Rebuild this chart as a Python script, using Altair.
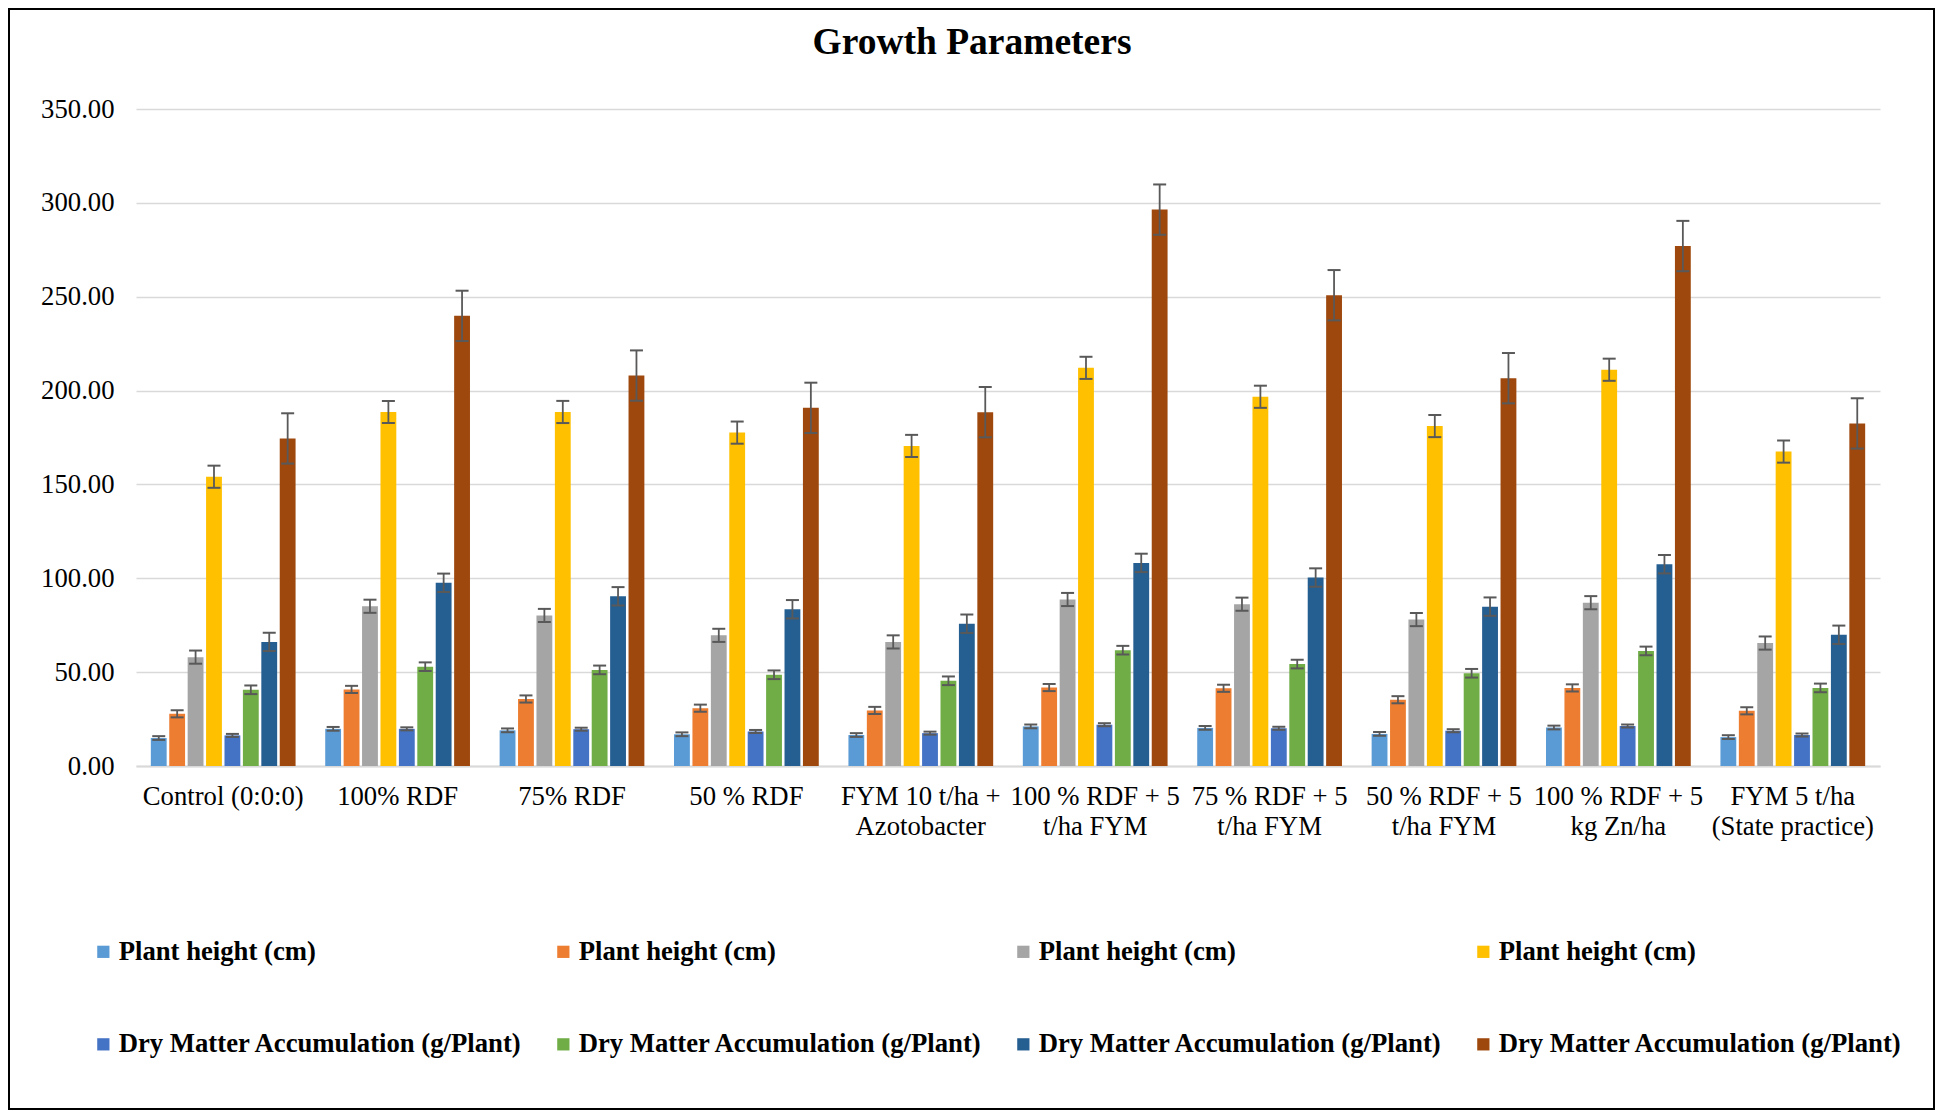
import altair as alt
import pandas as pd

chart_title = "Growth Parameters"

categories = [
    "Control (0:0:0)", "100% RDF", "75% RDF", "50 % RDF",
    "FYM 10 t/ha +\nAzotobacter", "100 % RDF + 5\nt/ha FYM",
    "75 % RDF + 5\nt/ha FYM", "50 % RDF + 5\nt/ha FYM",
    "100 % RDF + 5\nkg Zn/ha", "FYM 5 t/ha\n(State practice)",
]

series_names = [
    "Plant height (cm)", "Plant height (cm)", "Plant height (cm)", "Plant height (cm)",
    "Dry Matter Accumulation (g/Plant)", "Dry Matter Accumulation (g/Plant)",
    "Dry Matter Accumulation (g/Plant)", "Dry Matter Accumulation (g/Plant)",
]
series_colors = ["#5B9BD5", "#ED7D31", "#A5A5A5", "#FFC000",
                 "#4472C4", "#70AD47", "#255E91", "#9E480E"]

ph1 = [14.9, 19.8, 19.0, 16.9, 16.5, 21.1, 20.3, 17.1, 20.5, 15.4]
ph2 = [27.8, 40.8, 35.7, 30.8, 29.6, 41.8, 41.4, 35.3, 41.6, 29.4]
ph3 = [58.0, 85.1, 80.2, 69.6, 66.1, 88.7, 86.2, 78.0, 87.0, 65.5]
ph4 = [154.1, 188.6, 188.6, 177.6, 170.5, 212.1, 196.7, 181.1, 211.1, 167.5]
dm1 = [16.3, 19.8, 19.6, 18.4, 17.5, 22.0, 20.1, 18.8, 21.3, 16.5]
dm2 = [40.6, 52.9, 51.2, 48.6, 45.4, 61.7, 54.3, 49.4, 61.3, 41.6]
dm3 = [66.1, 97.6, 90.4, 83.5, 75.8, 108.2, 100.4, 84.9, 107.5, 69.9]
dm4 = [174.5, 239.8, 208.0, 190.8, 188.5, 296.4, 250.8, 206.6, 277.0, 182.5]

series_errors = [1.0, 1.9, 3.5, 5.9, 0.8, 2.3, 4.9, 13.4]

y_ticks = [0, 50, 100, 150, 200, 250, 300, 350]

all_series = [ph1, ph2, ph3, ph4, dm1, dm2, dm3, dm4]
domain = [f"{i + 1} {n}" for i, n in enumerate(series_names)]

rows = []
for si, vals in enumerate(all_series):
    for ci, cat in enumerate(categories):
        rows.append({"category": cat, "series": domain[si],
                     "value": vals[ci], "err": series_errors[si]})
df = pd.DataFrame(rows)

FONT = "Liberation Serif"
FS = 26.7
W, H = 1744, 657
PAD = {"left": 128, "top": 101, "right": 55, "bottom": 344}

x_enc = alt.X(
    "category:N", sort=categories,
    scale=alt.Scale(paddingInner=0.17, paddingOuter=0.085),
    axis=alt.Axis(
        title=None, labelExpr="split(datum.label, '\\n')", labelAngle=0,
        labelFont=FONT, labelFontSize=FS, labelColor="#000000",
        labelLineHeight=30, labelPadding=17, labelLimit=400,
        ticks=False, domainColor="#D9D9D9", domainWidth=2, grid=False,
    ),
)
xo_enc = alt.XOffset("series:N", sort=domain,
                     scale=alt.Scale(paddingInner=0.14, paddingOuter=0))
y_axis = alt.Axis(
    title=None, values=y_ticks, format=".2f", labelFont=FONT, labelFontSize=FS,
    labelColor="#000000", labelPadding=22, ticks=False, domain=False,
    grid=True, gridColor="#D9D9D9", gridWidth=1.5,
)

bars = alt.Chart(df).mark_bar().encode(
    x=x_enc,
    xOffset=xo_enc,
    y=alt.Y("value:Q", scale=alt.Scale(domain=[0, 350]), axis=y_axis),
    color=alt.Color(
        "series:N", sort=domain,
        scale=alt.Scale(domain=domain, range=series_colors),
        legend=alt.Legend(
            title=None, orient="none", legendX=-46, legendY=829,
            direction="horizontal", columns=4, columnPadding=27, rowPadding=65,
            symbolType="square", symbolSize=150, symbolStrokeWidth=0,
            labelExpr="slice(datum.label, 2)", labelFont=FONT,
            labelFontSize=FS, labelFontWeight="bold", labelColor="#000000",
            labelOffset=2, labelLimit=600,
        ),
    ),
)

err_rules = alt.Chart(df).transform_calculate(
    lo="datum.value - datum.err", hi="datum.value + datum.err"
).mark_rule(color="#595959", strokeWidth=1.8).encode(
    x=x_enc, xOffset=xo_enc,
    y=alt.Y("lo:Q", scale=alt.Scale(domain=[0, 350]), axis=y_axis),
    y2="hi:Q",
)

err_caps = alt.Chart(df).transform_calculate(
    lo="datum.value - datum.err", hi="datum.value + datum.err"
).transform_fold(["lo", "hi"], as_=["cap_key", "cap_val"]).mark_tick(
    color="#595959", thickness=2, size=13, orient="horizontal", opacity=1
).encode(
    x=x_enc, xOffset=xo_enc,
    y=alt.Y("cap_val:Q", scale=alt.Scale(domain=[0, 350]), axis=y_axis),
)

title_mark = alt.Chart(alt.Data(values=[{}])).mark_text(
    font=FONT, fontSize=37.5, fontWeight="bold", color="#000000",
    align="center", baseline="middle",
).encode(
    x=alt.value(W / 2 - 36), y=alt.value(-66), text=alt.value(chart_title),
)

frame = alt.Chart(alt.Data(values=[{}])).mark_rect(
    filled=False, stroke="#000000", strokeWidth=2
).encode(
    x=alt.value(-PAD["left"] + 1), x2=alt.value(W + PAD["right"] - 1),
    y=alt.value(-PAD["top"] + 1), y2=alt.value(H + PAD["bottom"] - 1),
)

chart = alt.layer(bars, err_rules, err_caps, title_mark, frame).properties(
    width=W, height=H,
    autosize=alt.AutoSizeParams(type="none"),
    padding=PAD,
    background="#FFFFFF",
).configure_view(stroke=None)

chart.save("out.html", embed_options={"renderer": "svg", "actions": False})
